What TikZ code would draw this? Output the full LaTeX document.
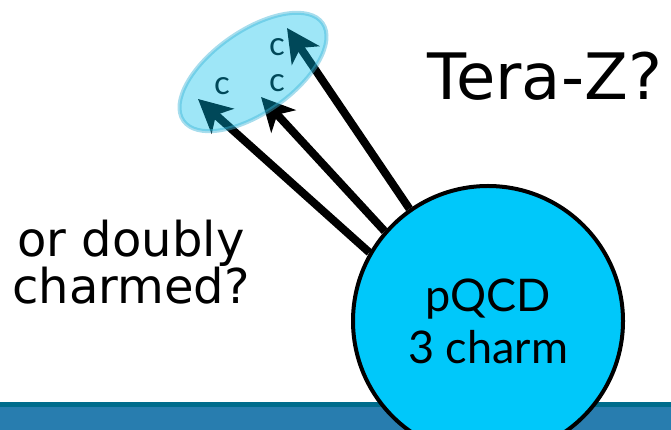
\documentclass[tikz,border=0pt]{standalone}
\usepackage{fontspec}
\setmainfont{DejaVu Sans}
\newfontfamily\gillfont{Lato}
\usetikzlibrary{arrows.meta,backgrounds}

\definecolor{charmblue}{RGB}{0,200,250}
\definecolor{clusterblue}{RGB}{0,190,235}
\definecolor{clusteredge}{RGB}{60,180,215}
\definecolor{barblue}{RGB}{40,125,175}
\definecolor{bardark}{RGB}{0,108,140}

\begin{document}
\begin{tikzpicture}[
    x=1pt, y=1pt,
    blob/.style={circle, draw, line width=4pt, fill=charmblue, minimum size=270pt, inner sep=0pt, align=center, font=\gillfont\fontsize{45}{52}\selectfont},
    quark/.style={inner sep=0pt, font=\gillfont\fontsize{33}{33}\selectfont},
    jet/.style={line width=8pt, -{Stealth[length=33pt, width=33pt, inset=9pt]}},
    question/.style={inner sep=0pt, anchor=base, align=center}
]
\useasboundingbox (0,0) rectangle (671,430);

% bottom bar
\begin{pgfonlayer}{background}
\fill[barblue] (0,0) rectangle (671,23);
\fill[bardark] (0,23) rectangle (671,28);
\end{pgfonlayer}

\node[blob] (pqcd) at (488,109) {pQCD\\3 charm};

\node[quark] (c1) at (222,344) {c};
\node[quark] (c2) at (277,347) {c};
\node[quark] (c3) at (277,383) {c};

\coordinate (tip1) at (198,331);
\coordinate (tip2) at (261,333);
\coordinate (tip3) at (287,402);

\begin{pgfonlayer}{background}
\draw[jet] (pqcd.150) -- (tip1);
\draw[jet] (pqcd.139) -- (tip2);
\draw[jet] (pqcd.125) -- (tip3);
\end{pgfonlayer}

% cluster drawn over the arrows
\draw[clusteredge, line width=4pt, fill=clusterblue, fill opacity=0.38, draw opacity=0.45, rotate around={35:(253,358)}] (253,358) ellipse [x radius=85, y radius=41];

\node[question, font=\fontsize{64}{64}\selectfont] (tera) at (545,330) {Tera-Z?};
\node[question, font=\fontsize{48}{44}\selectfont] (doubly) at (131,126) {or doubly\\charmed?};

\end{tikzpicture}
\end{document}
